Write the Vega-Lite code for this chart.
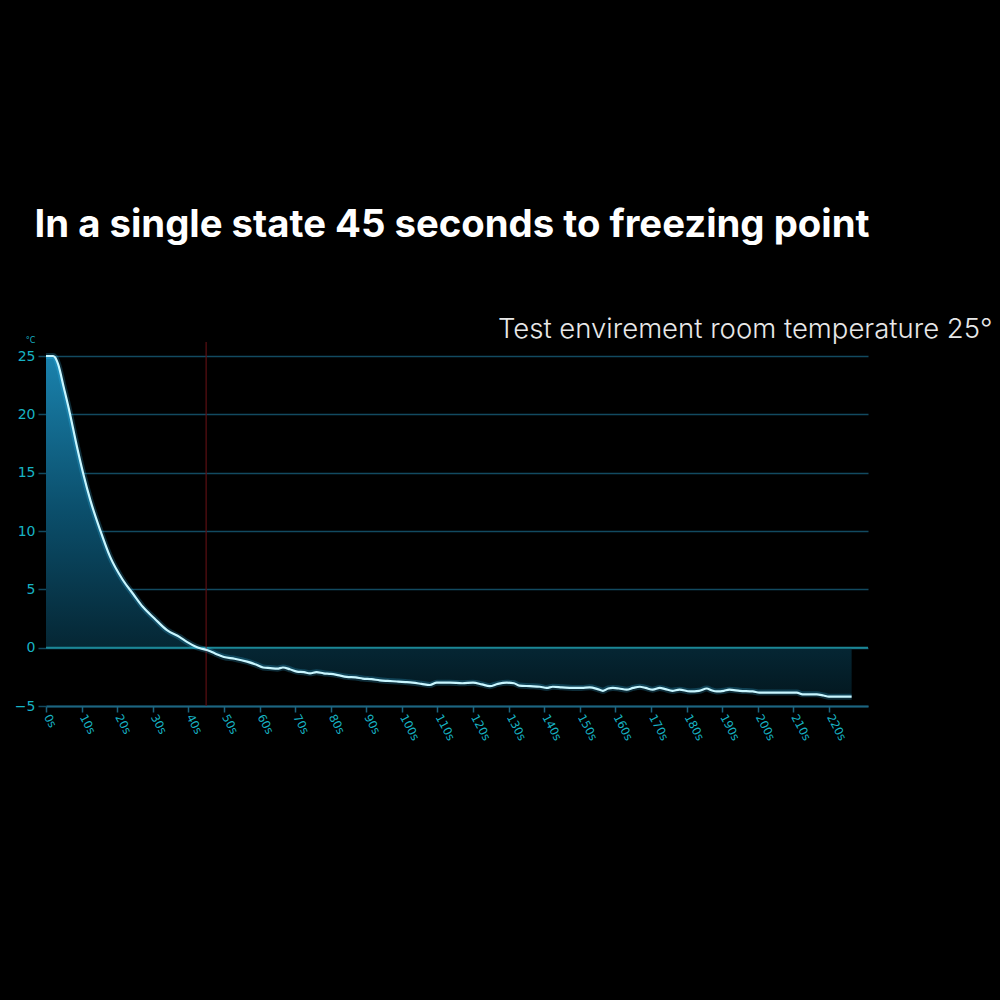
{
  "$schema": "https://vega.github.io/schema/vega-lite/v6.json",
  "width": 822,
  "height": 350,
  "autosize": {"type": "none"},
  "padding": {"left": 46, "top": 356, "right": 132, "bottom": 294},
  "background": "#000000",
  "config": {"view": {"stroke": null}},
  "title": {
    "text": "In a single state 45 seconds to freezing point",
    "color": "#ffffff",
    "font": "Inter",
    "fontSize": 38.3,
    "fontWeight": 700,
    "anchor": "middle",
    "frame": "group",
    "baseline": "alphabetic",
    "offset": 41,
    "dx": -5
  },
  "datasets": {
    "curve": [
      {"t": 0, "T": 25}, {"t": 1, "T": 25}, {"t": 2, "T": 25}, {"t": 2.5, "T": 24.9},
      {"t": 3.4, "T": 24.3}, {"t": 5, "T": 22.3}, {"t": 6.7, "T": 20.1}, {"t": 8.5, "T": 17.5},
      {"t": 10.4, "T": 15.0}, {"t": 12.5, "T": 12.6}, {"t": 15.2, "T": 10.1}, {"t": 18, "T": 7.8},
      {"t": 21.6, "T": 5.8}, {"t": 24.5, "T": 4.6}, {"t": 27.2, "T": 3.5}, {"t": 30.5, "T": 2.5},
      {"t": 34, "T": 1.5}, {"t": 37.6, "T": 0.9}, {"t": 39.6, "T": 0.5}, {"t": 42, "T": 0.1},
      {"t": 43.3, "T": -0.05}, {"t": 45.2, "T": -0.2}, {"t": 47.5, "T": -0.5}, {"t": 50, "T": -0.8},
      {"t": 53, "T": -0.95}, {"t": 56.5, "T": -1.2}, {"t": 59, "T": -1.45}, {"t": 61, "T": -1.7},
      {"t": 63, "T": -1.75}, {"t": 65, "T": -1.8}, {"t": 66.6, "T": -1.7}, {"t": 68.5, "T": -1.85},
      {"t": 70.5, "T": -2.05}, {"t": 72.5, "T": -2.1}, {"t": 74.2, "T": -2.2}, {"t": 76, "T": -2.1},
      {"t": 78, "T": -2.2}, {"t": 80, "T": -2.25}, {"t": 82, "T": -2.35}, {"t": 84.5, "T": -2.5},
      {"t": 87, "T": -2.55}, {"t": 89, "T": -2.65}, {"t": 91.5, "T": -2.7}, {"t": 93.8, "T": -2.8},
      {"t": 96, "T": -2.85}, {"t": 98.6, "T": -2.9}, {"t": 101, "T": -2.95}, {"t": 103, "T": -3.0},
      {"t": 105.5, "T": -3.1}, {"t": 107.9, "T": -3.2}, {"t": 109.8, "T": -3.0}, {"t": 113.5, "T": -3.0},
      {"t": 117, "T": -3.05}, {"t": 120, "T": -3.0}, {"t": 122.5, "T": -3.15}, {"t": 124.7, "T": -3.3},
      {"t": 127, "T": -3.1}, {"t": 129.5, "T": -3.0}, {"t": 131.5, "T": -3.05}, {"t": 133, "T": -3.25},
      {"t": 136, "T": -3.3}, {"t": 138.8, "T": -3.35}, {"t": 140.7, "T": -3.45}, {"t": 142.4, "T": -3.35},
      {"t": 145, "T": -3.4}, {"t": 148, "T": -3.45}, {"t": 150.5, "T": -3.45}, {"t": 152.8, "T": -3.4},
      {"t": 155, "T": -3.55}, {"t": 156.5, "T": -3.7}, {"t": 158, "T": -3.5}, {"t": 159.3, "T": -3.45},
      {"t": 161, "T": -3.5}, {"t": 163.2, "T": -3.6}, {"t": 165, "T": -3.45}, {"t": 166.9, "T": -3.35},
      {"t": 168.5, "T": -3.45}, {"t": 170.5, "T": -3.6}, {"t": 172.5, "T": -3.45}, {"t": 174, "T": -3.55},
      {"t": 176, "T": -3.7}, {"t": 178, "T": -3.6}, {"t": 181, "T": -3.75}, {"t": 183.5, "T": -3.7},
      {"t": 185.7, "T": -3.5}, {"t": 187, "T": -3.65}, {"t": 188.5, "T": -3.75}, {"t": 190.5, "T": -3.7},
      {"t": 192, "T": -3.6}, {"t": 195, "T": -3.7}, {"t": 198.6, "T": -3.75}, {"t": 200.5, "T": -3.85},
      {"t": 205, "T": -3.85}, {"t": 211, "T": -3.85}, {"t": 212.6, "T": -4.0}, {"t": 216.6, "T": -4.0},
      {"t": 218.5, "T": -4.1}, {"t": 220, "T": -4.2}, {"t": 226.4, "T": -4.2}
    ],
    "notes": [
      {"t": 266, "T": 26.55, "label": "Test envirement room temperature 25°"}
    ],
    "marker": [
      {"t": 45, "T": -5, "hi": 26.2}
    ],
    "zero": [
      {"t": 0, "t2": 231, "T": 0}
    ]
  },
  "encoding": {
    "x": {
      "field": "t", "type": "quantitative",
      "scale": {"domain": [0, 231], "nice": false, "zero": false},
      "axis": {
        "values": [0, 10, 20, 30, 40, 50, 60, 70, 80, 90, 100, 110, 120, 130, 140, 150, 160, 170, 180, 190, 200, 210, 220],
        "labelExpr": "datum.value + 's'",
        "labelAngle": 62,
        "labelAlign": "left",
        "labelBaseline": "middle",
        "labelOverlap": false,
        "labelSeparation": 0,
        "labelColor": "#17b3c4",
        "labelFont": "DejaVu Sans",
        "labelFontSize": 11.5,
        "labelPadding": 3,
        "tickColor": "#1c6580",
        "tickSize": 6,
        "tickWidth": 1.5,
        "domainColor": "#1c6580",
        "domainWidth": 2,
        "grid": false,
        "title": null
      }
    },
    "y": {
      "field": "T", "type": "quantitative",
      "scale": {"domain": [-5, 25], "nice": false, "zero": false},
      "axis": {
        "values": [-5, 0, 5, 10, 15, 20, 25],
        "labelColor": "#17b3c4",
        "labelFont": "DejaVu Sans",
        "labelFontSize": 14,
        "labelPadding": 3,
        "tickColor": "#124a60",
        "tickSize": 8,
        "tickWidth": 1.5,
        "domain": false,
        "grid": true,
        "gridColor": "#124a60",
        "gridWidth": 1.5,
        "title": "°C",
        "titleAngle": 0,
        "titleColor": "#17b3c4",
        "titleFont": "DejaVu Sans",
        "titleFontSize": 8,
        "titleFontWeight": "normal",
        "titleX": -16,
        "titleY": -12,
        "titleAlign": "center"
      }
    }
  },
  "layer": [
    {
      "data": {"name": "curve"},
      "mark": {
        "type": "area",
        "interpolate": "monotone",
        "color": {
          "gradient": "linear",
          "x1": 0, "y1": 0, "x2": 0, "y2": 1,
          "stops": [
            {"offset": 0, "color": "#1a82ad"},
            {"offset": 0.45, "color": "#0b4f6c"},
            {"offset": 1, "color": "#031820"}
          ]
        }
      }
    },
    {
      "data": {"name": "zero"},
      "mark": {"type": "rule", "color": "#1b8796", "strokeWidth": 2},
      "encoding": {"x2": {"field": "t2"}}
    },
    {
      "data": {"name": "marker"},
      "mark": {"type": "rule", "color": "#5c0f12", "strokeWidth": 1.2},
      "encoding": {
        "y2": {"field": "hi"}
      }
    },
    {
      "data": {"name": "curve"},
      "mark": {"type": "line", "interpolate": "monotone", "color": "#3cc8ff", "strokeWidth": 6, "opacity": 0.22}
    },
    {
      "data": {"name": "curve"},
      "mark": {"type": "line", "interpolate": "monotone", "color": "#c8f6ff", "strokeWidth": 2.2}
    },
    {
      "data": {"name": "notes"},
      "mark": {"type": "text", "align": "right", "baseline": "alphabetic", "font": "Inter", "fontWeight": 300, "fontSize": 27.5, "color": "#e8e8e8"},
      "encoding": {
        "text": {"field": "label"}
      }
    }
  ]
}
